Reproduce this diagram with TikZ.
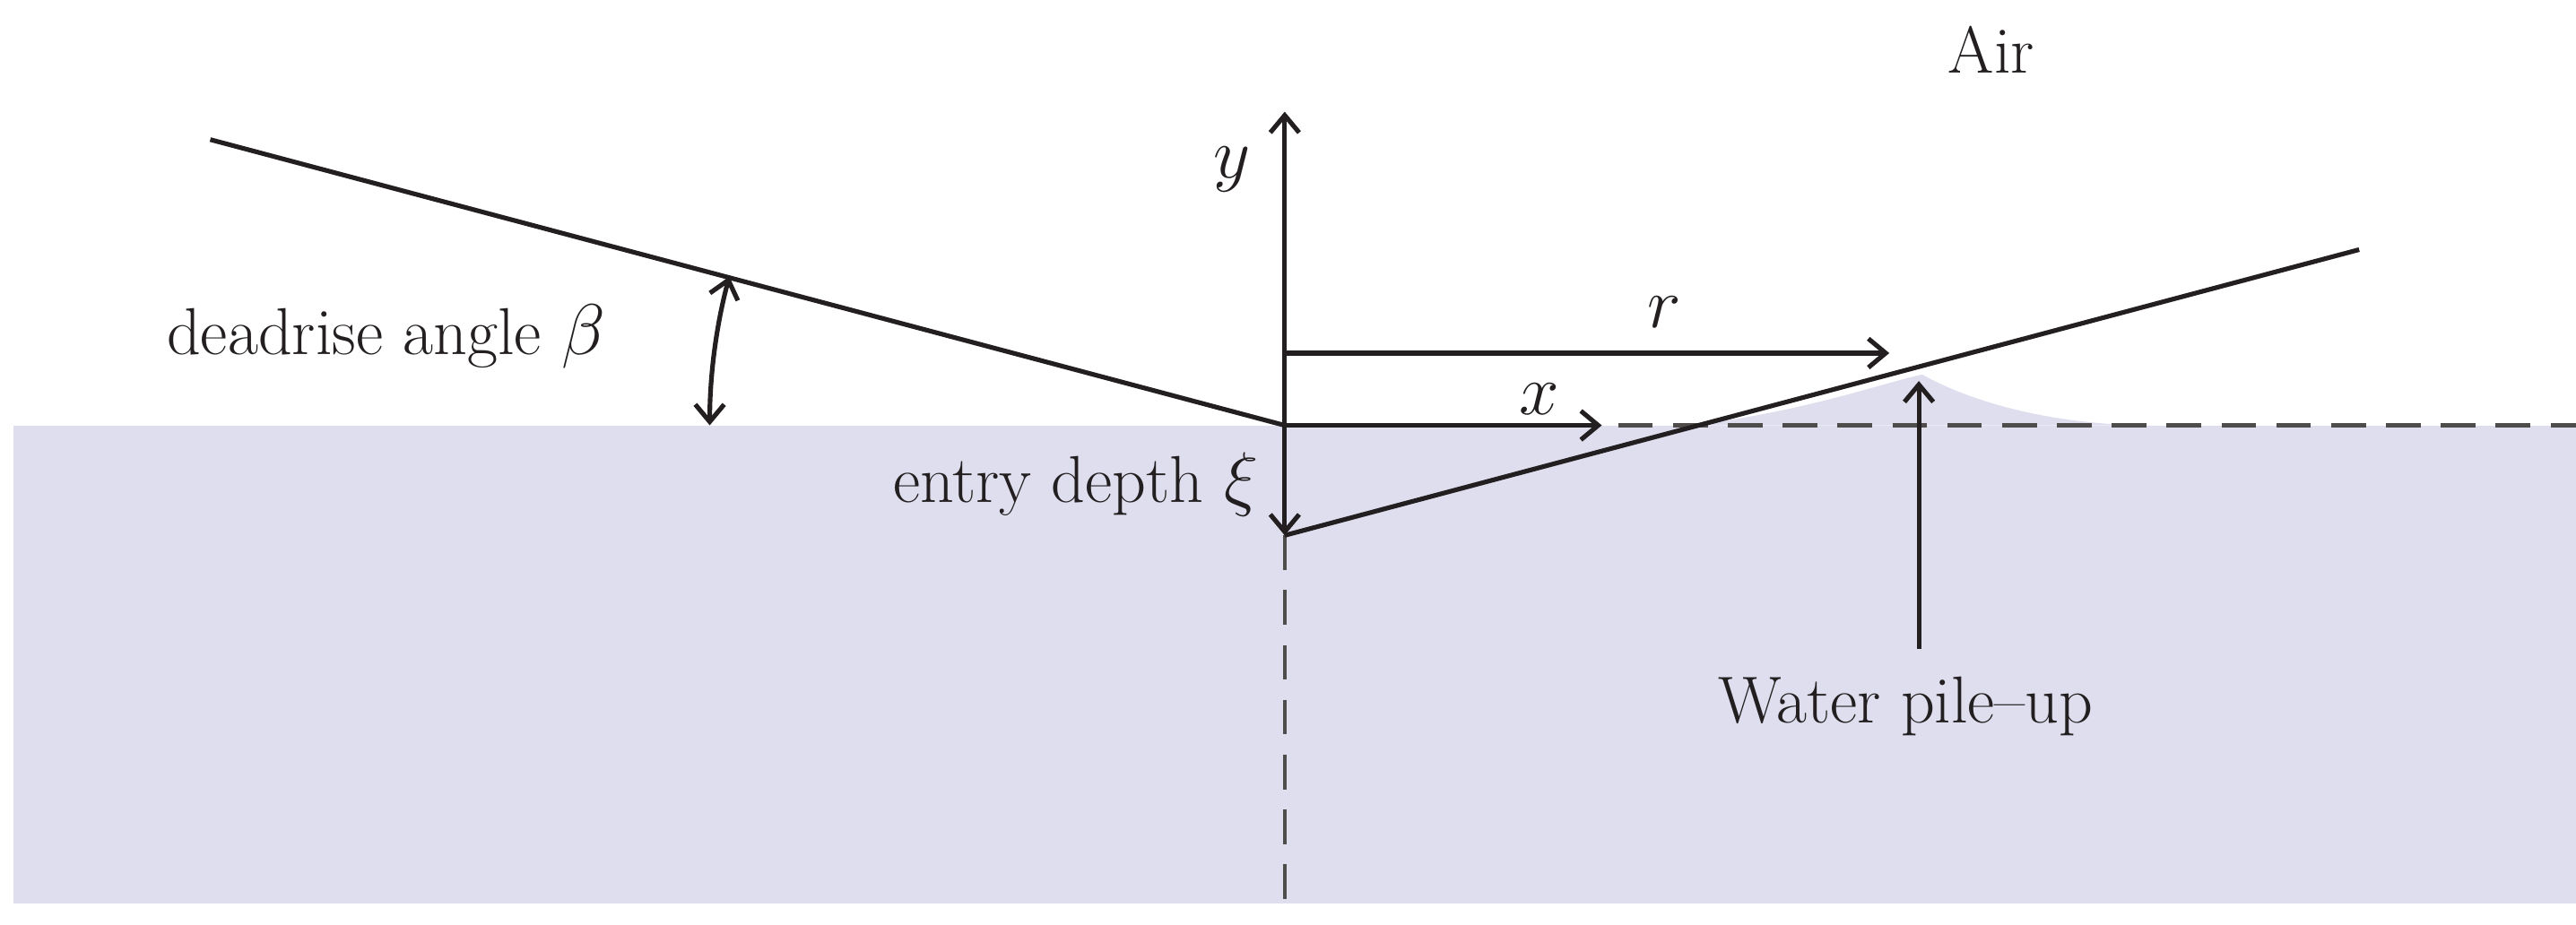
\documentclass[tikz,border=0pt]{standalone}
\usepackage{amsmath}
\usetikzlibrary{arrows.meta}
\definecolor{water}{RGB}{222,222,238}
\definecolor{ink}{RGB}{35,31,32}
\tikzset{
  lbl/.style={font=\fontsize{23}{27}\selectfont, text=ink},
  ax/.style={ink, line width=1.6pt, -{Straight Barb[length=6pt,width=10pt]}},
  hull/.style={ink, line width=1.6pt},
  dsh/.style={ink!80, line width=1.4pt, dash pattern=on 12pt off 7pt}
}
\begin{document}
\begin{tikzpicture}[x=0.02cm, y=-0.02cm]
\useasboundingbox (0,0) rectangle (1568,563);
% water
\fill[water] (8,259) rectangle (1568,550);
\fill[water] (1030,259) .. controls (1100,250) and (1140,235) .. (1170,228)
  .. controls (1200,245) and (1250,259) .. (1310,259) -- cycle;

% coordinates
\coordinate (O) at (782,259);
\coordinate (K) at (782,326);
\coordinate (L) at (128,85);
\coordinate (R) at (1436,152);

% dashed lines
\draw[dsh] (K) -- (782,550);
\draw[dsh] (985,259) -- (1568,259);

% hull
\draw[hull] (L) -- (O);
\draw[hull] (K) -- (R);

% axes
\draw[ax] (O) -- (782,68);
\draw[ax] (O) -- (K);
\draw[ax] (O) -- (975,259);
\draw[ax] (782,215) -- (1150,215);
\draw[ax] (1168,395) -- (1168,232);

% deadrise angle
\draw[ink, line width=1.6pt, {Straight Barb[length=6pt,width=10pt]}-{Straight Barb[length=6pt,width=10pt]}]
  (O) ++(180:350) arc[start angle=180, end angle=195, radius=350];

% labels
\node[lbl] (ylab) at (750,103) {$y$};
\node[lbl] (rlab) at (1013,190) {$r$};
\node[lbl] (xlab) at (937,243) {$x$};
\node[lbl, anchor=east] (depth) at (772,295) {entry depth $\xi$};
\node[lbl] (beta) at (235,205) {deadrise angle $\beta$};
\node[lbl] (pile) at (1160,430) {Water pile--up};
\node[lbl] (air) at (1212,30) {Air};
\end{tikzpicture}
\end{document}
